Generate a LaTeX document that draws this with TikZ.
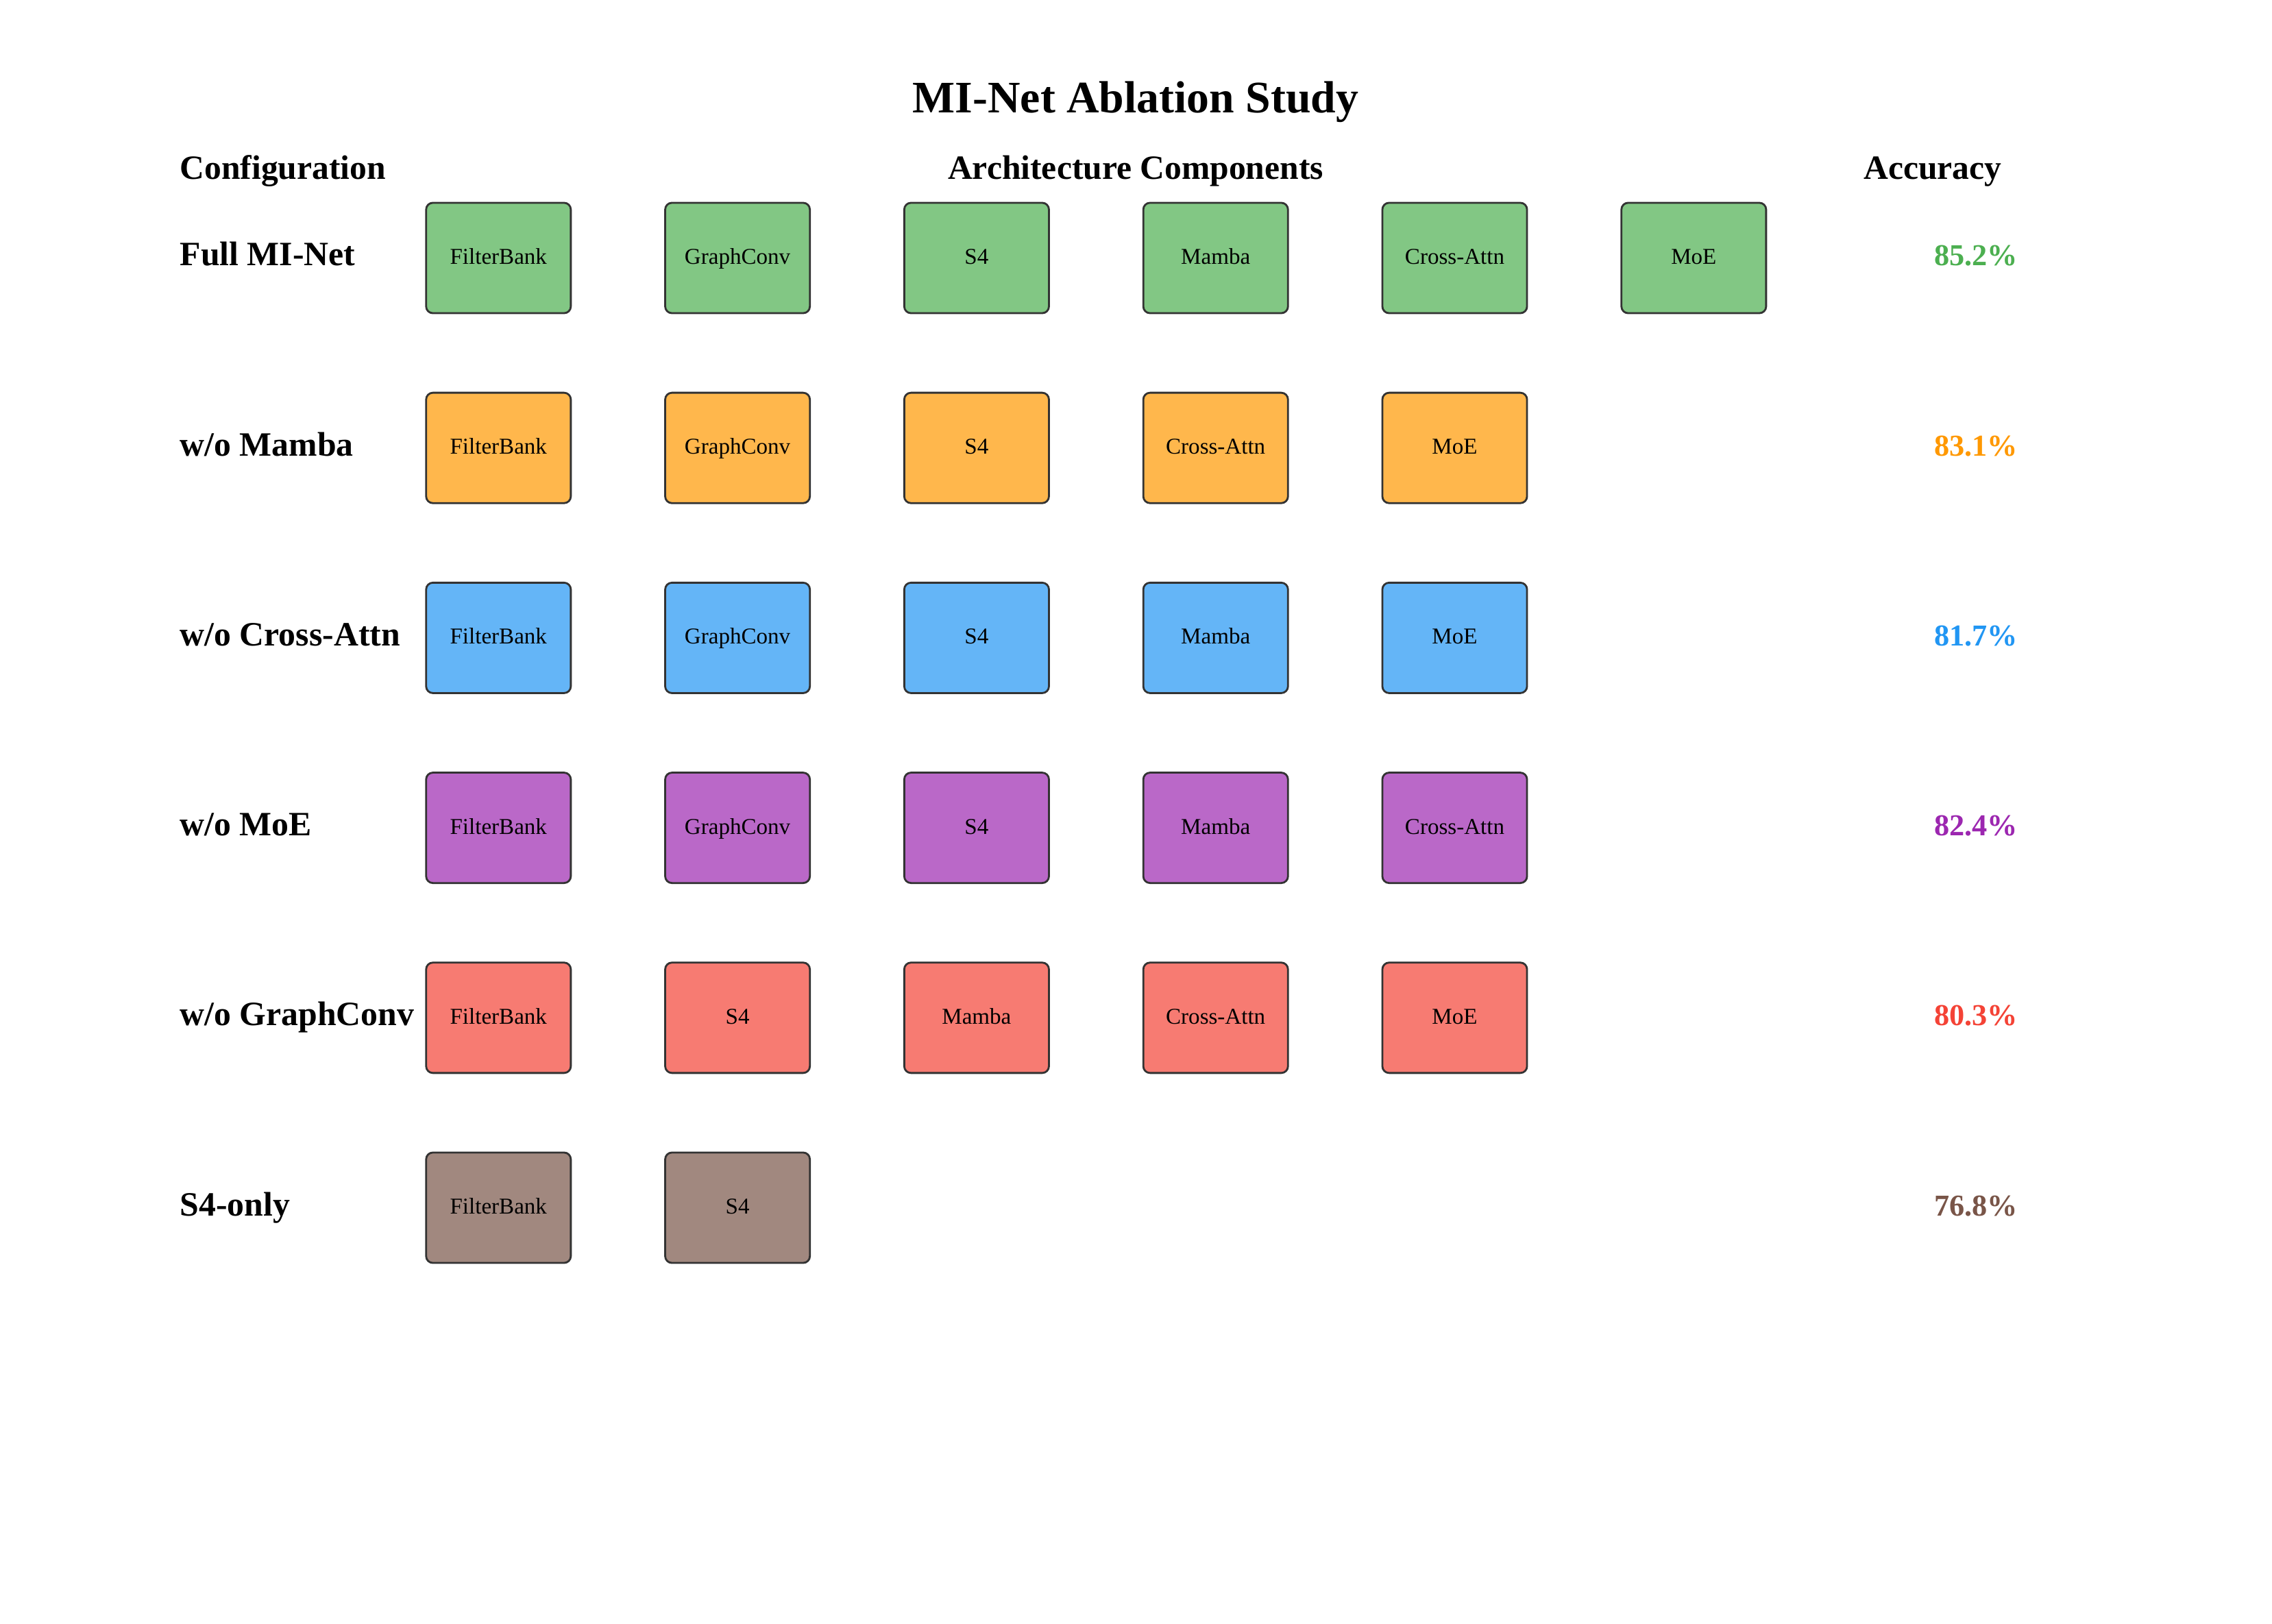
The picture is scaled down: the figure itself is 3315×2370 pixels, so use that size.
\documentclass[tikz,border=0pt]{standalone}
\usepackage{fontspec}
\setmainfont{Liberation Serif}
\definecolor{cgreen}{HTML}{4CAF50}
\definecolor{corange}{HTML}{FF9800}
\definecolor{cblue}{HTML}{2196F3}
\definecolor{cpurple}{HTML}{9C27B0}
\definecolor{cred}{HTML}{F44336}
\definecolor{cbrown}{HTML}{795548}
\definecolor{cedge}{HTML}{333333}
\tikzset{
  comp/.style={draw=cedge, line width=0.8pt, rounded corners=2.8pt, fill=#1!70!white,
    minimum width=2.11cm, minimum height=1.61cm, inner sep=0pt,
    font=\fontsize{9.4}{11}\selectfont, text height=0.66em, text depth=0.15em},
  hdr/.style={font=\fontsize{14.1}{16}\selectfont\bfseries, inner sep=0pt},
  rowlbl/.style={font=\fontsize{14.15}{16}\selectfont\bfseries, inner sep=0pt, anchor=base west},
  acc/.style={font=\fontsize{12.6}{14}\selectfont\bfseries, inner sep=0pt, anchor=base, text=#1},
}
\begin{document}
\begin{tikzpicture}[x=0.01cm, y=-0.01cm]
\useasboundingbox (0,0) rectangle (3315,2370);
\node[font=\fontsize{18.7}{22}\selectfont\bfseries, inner sep=0pt, anchor=base] (title) at (1657,165) {MI-Net Ablation Study};
\node[hdr, anchor=base west] (hconf) at (262,262) {Configuration};
\node[hdr, anchor=base] (harch) at (1657,262) {Architecture Components};
\node[hdr, anchor=base] (hacc) at (2820,262) {Accuracy};
% Row 1
\node[rowlbl] (l1) at (262,388) {Full MI-Net};
\foreach \i/\t in {0/FilterBank,1/GraphConv,2/S4,3/Mamba,4/Cross-Attn,5/MoE}
  \node[comp=cgreen] (r1c\i) at ({727.3+\i*348.8},376.5) {\t};
\node[acc=cgreen] (a1) at (2883,388) {85.2\%};
% Row 2
\node[rowlbl] (l2) at (262,665.2) {w/o Mamba};
\foreach \i/\t in {0/FilterBank,1/GraphConv,2/S4,3/Cross-Attn,4/MoE}
  \node[comp=corange] (r2c\i) at ({727.3+\i*348.8},653.7) {\t};
\node[acc=corange] (a2) at (2883,665.2) {83.1\%};
% Row 3
\node[rowlbl] (l3) at (262,942.4) {w/o Cross-Attn};
\foreach \i/\t in {0/FilterBank,1/GraphConv,2/S4,3/Mamba,4/MoE}
  \node[comp=cblue] (r3c\i) at ({727.3+\i*348.8},930.9) {\t};
\node[acc=cblue] (a3) at (2883,942.4) {81.7\%};
% Row 4
\node[rowlbl] (l4) at (262,1219.6) {w/o MoE};
\foreach \i/\t in {0/FilterBank,1/GraphConv,2/S4,3/Mamba,4/Cross-Attn}
  \node[comp=cpurple] (r4c\i) at ({727.3+\i*348.8},1208.1) {\t};
\node[acc=cpurple] (a4) at (2883,1219.6) {82.4\%};
% Row 5
\node[rowlbl] (l5) at (262,1496.8) {w/o GraphConv};
\foreach \i/\t in {0/FilterBank,1/S4,2/Mamba,3/Cross-Attn,4/MoE}
  \node[comp=cred] (r5c\i) at ({727.3+\i*348.8},1485.3) {\t};
\node[acc=cred] (a5) at (2883,1496.8) {80.3\%};
% Row 6
\node[rowlbl] (l6) at (262,1774) {S4-only};
\foreach \i/\t in {0/FilterBank,1/S4}
  \node[comp=cbrown] (r6c\i) at ({727.3+\i*348.8},1762.5) {\t};
\node[acc=cbrown] (a6) at (2883,1774) {76.8\%};
\end{tikzpicture}
\end{document}
